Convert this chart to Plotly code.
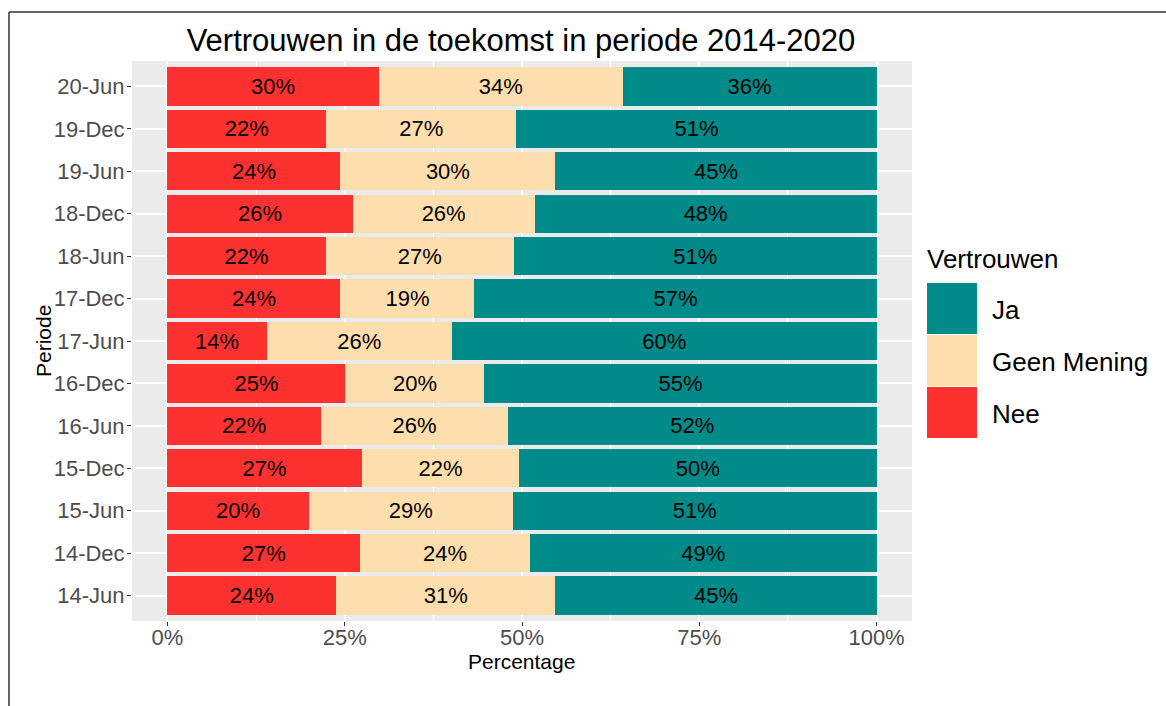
import plotly.graph_objects as go

# ---- data ----
periods = ["14-Jun", "14-Dec", "15-Jun", "15-Dec", "16-Jun", "16-Dec", "17-Jun",
           "17-Dec", "18-Jun", "18-Dec", "19-Jun", "19-Dec", "20-Jun"]
nee = [23.8, 27.2, 19.9, 27.4, 21.7, 25.1, 14.0, 24.4, 22.3, 26.1, 24.4, 22.4, 29.8]
geen_mening = [30.9, 23.9, 28.8, 22.2, 26.3, 19.6, 26.1, 18.9, 26.6, 25.7, 30.3, 26.8, 34.4]
ja = [45.3, 48.9, 51.3, 50.4, 52.0, 55.3, 59.9, 56.7, 51.1, 48.2, 45.3, 50.8, 35.8]

series_names = ["Nee", "Geen Mening", "Ja"]
series_values = [nee, geen_mening, ja]
series_colors = ["#FF3030", "#FFDEAD", "#008B8B"]

x_tickvals = [0, 25, 50, 75, 100]
x_ticktext = ["0%", "25%", "50%", "75%", "100%"]
x_minor = [12.5, 37.5, 62.5, 87.5]

title_text = "Vertrouwen in de toekomst in periode 2014-2020"
legend_title = "Vertrouwen"

FONT = "Liberation Sans, Arial, sans-serif"

W, H = 1166, 706
ML, MR, MT, MB = 132, 254, 61, 85
PW = W - ML - MR
PH = H - MT - MB


def px_x(px):
    return (px - ML) / PW


def px_y(py):
    return (H - MB - py) / PH


fig = go.Figure()
for name, vals, col in zip(series_names, series_values, series_colors):
    fig.add_trace(go.Bar(
        y=periods, x=vals, name=name, orientation="h",
        marker=dict(color=col, line=dict(width=0)),
        width=0.9,
        text=[f"{round(v):d}%" for v in vals],
        textposition="inside", insidetextanchor="middle",
        textangle=0, constraintext="none",
        textfont=dict(family=FONT, size=22, color="black"),
        showlegend=False, hoverinfo="x+y+name",
    ))

fig.update_layout(
    width=W, height=H,
    margin=dict(l=ML, r=MR, t=MT, b=MB),
    barmode="stack",
    bargap=0.1,
    plot_bgcolor="#EBEBEB",
    paper_bgcolor="white",
    font=dict(family=FONT, color="black"),
    title=dict(text=title_text, x=521 / W, xanchor="center",
               xref="container", yref="container", y=1 - 40 / H, yanchor="middle",
               font=dict(family=FONT, size=31, color="black")),
)

fig.update_xaxes(
    range=[-5, 105], tickvals=x_tickvals, ticktext=x_ticktext,
    showgrid=True, gridcolor="white", gridwidth=2,
    minor=dict(tickvals=x_minor, showgrid=True, gridcolor="white", gridwidth=1, ticks=""),
    ticks="outside", ticklen=4, tickcolor="#333333", tickwidth=1,
    ticklabelstandoff=-7,
    tickfont=dict(family=FONT, size=22, color="#4D4D4D"),
    zeroline=False, showline=False, fixedrange=True,
)
fig.update_yaxes(
    type="category", categoryorder="array", categoryarray=periods,
    range=[-0.6, len(periods) - 0.4],
    showgrid=True, gridcolor="white", gridwidth=2,
    ticks="outside", ticklen=4, tickcolor="#333333", tickwidth=1,
    ticklabelstandoff=-2,
    tickfont=dict(family=FONT, size=22, color="#4D4D4D"),
    zeroline=False, showline=False, fixedrange=True,
)

annotations = [
    dict(text="Percentage", x=px_x(521), y=px_y(661), xref="paper", yref="paper",
         xanchor="center", yanchor="middle", showarrow=False,
         font=dict(family=FONT, size=21, color="black")),
    dict(text="Periode", x=px_x(43), y=px_y(341), xref="paper", yref="paper",
         xanchor="center", yanchor="middle", showarrow=False, textangle=-90,
         font=dict(family=FONT, size=21, color="black")),
    dict(text=legend_title, x=px_x(925), y=px_y(259), xref="paper", yref="paper",
         xanchor="left", yanchor="middle", showarrow=False,
         font=dict(family=FONT, size=26, color="black")),
]

shapes = [
    # outer frame (left and top edges)
    dict(type="line", xref="paper", yref="paper", x0=px_x(9), x1=px_x(9),
         y0=px_y(12), y1=px_y(H + 5), line=dict(color="#333333", width=1.5)),
    dict(type="line", xref="paper", yref="paper", x0=px_x(9), x1=px_x(W + 5),
         y0=px_y(12), y1=px_y(12), line=dict(color="#333333", width=1.5)),
]

# custom legend (ggplot style large keys): Ja, Geen Mening, Nee top to bottom
key_top = 283
key_h = 52
for i, idx in enumerate([2, 1, 0]):
    y0 = key_top + i * key_h
    shapes.append(dict(type="rect", xref="paper", yref="paper",
                       x0=px_x(927), x1=px_x(977), y0=px_y(y0 + key_h - 1), y1=px_y(y0),
                       fillcolor=series_colors[idx], line=dict(width=0)))
    annotations.append(dict(text=series_names[idx], x=px_x(990), y=px_y(y0 + key_h / 2 + 1),
                            xref="paper", yref="paper", xanchor="left", yanchor="middle",
                            showarrow=False, font=dict(family=FONT, size=26, color="black")))

fig.update_layout(annotations=annotations, shapes=shapes)

fig.write_html("out.html")
